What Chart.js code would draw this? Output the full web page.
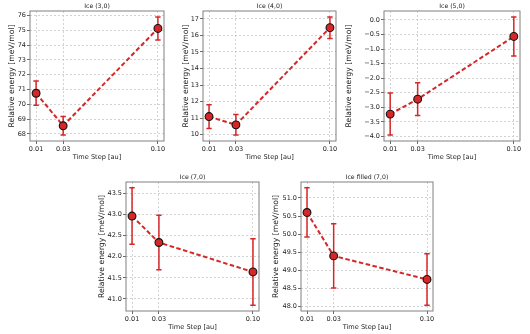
<!DOCTYPE html>
<html>
<head>
<meta charset="utf-8">
<script src="https://cdn.jsdelivr.net/npm/chart.js@4"></script>
<style>
  body { margin: 0; background: #fff; }
  #wrap { position: relative; width: 530px; height: 334px; overflow: hidden; }
  canvas { position: absolute; }
</style>
</head>
<body>
<div id="wrap"></div>
<script>
// time steps shared by all panels
const timeSteps = [0.01, 0.03, 0.10];
const xTickLabels = ['0.01', '0.03', '0.10'];

const titles = ['Ice (3,0)', 'Ice (4,0)', 'Ice (5,0)', 'Ice (7,0)', 'Ice filled (7,0)'];

// relative energies [meV/mol] and their error bars
const energies30 = [70.75, 68.55, 75.13];
const errors30 = [0.82, 0.63, 0.78];
const energies40 = [11.10, 10.60, 16.47];
const errors40 = [0.72, 0.62, 0.65];
const energies50 = [-3.23, -2.72, -0.57];
const errors50 = [0.72, 0.56, 0.67];
const energies70 = [42.97, 42.34, 41.64];
const errors70 = [0.67, 0.65, 0.79];
const energiesFilled = [50.60, 49.40, 48.75];
const errorsFilled = [0.68, 0.89, 0.71];

// y tick labels per panel
const yTicks30 = [68, 69, 70, 71, 72, 73, 74, 75, 76];
const yTicks40 = [10, 11, 12, 13, 14, 15, 16, 17];
const yTicks50 = [-4.0, -3.5, -3.0, -2.5, -2.0, -1.5, -1.0, -0.5, 0.0];
const yTicks70 = [41.0, 41.5, 42.0, 42.5, 43.0, 43.5];
const yTicksFilled = [48.0, 48.5, 49.0, 49.5, 50.0, 50.5, 51.0];

const RED = '#d62728';
const FONT = 'DejaVu Sans';
const X_AXIS_H = 26, PAD_TOP = 11, PAD_RIGHT = 8;

const errorBars = {
    id: 'errorBars',
    beforeDatasetsDraw(chart, args, opts) {
        const {ctx, scales: {x, y}} = chart;
        ctx.save();
        ctx.strokeStyle = RED;
        ctx.lineWidth = 1.5;
        opts.values.forEach((v, i) => {
            const px = x.getPixelForValue(timeSteps[i]);
            const top = y.getPixelForValue(v + opts.errors[i]);
            const bot = y.getPixelForValue(v - opts.errors[i]);
            ctx.beginPath();
            ctx.moveTo(px, top); ctx.lineTo(px, bot);
            ctx.moveTo(px - 2.7, top); ctx.lineTo(px + 2.7, top);
            ctx.moveTo(px - 2.7, bot); ctx.lineTo(px + 2.7, bot);
            ctx.stroke();
        });
        ctx.restore();
    }
};

const frameAndTitle = {
    id: 'frameAndTitle',
    afterDraw(chart, args, opts) {
        const {ctx, chartArea: a} = chart;
        ctx.save();
        ctx.strokeStyle = '#808080';
        ctx.lineWidth = 1;
        ctx.strokeRect(a.left, a.top, a.right - a.left, a.bottom - a.top);
        ctx.fillStyle = '#222';
        ctx.font = '6.2px "' + FONT + '"';
        ctx.textAlign = 'center';
        ctx.textBaseline = 'middle';
        ctx.fillText(opts.text, (a.left + a.right) / 2, a.top - 5);
        ctx.restore();
    }
};

function fmt(v, dec) {
    return v.toFixed(dec).replace('-', '\u2212');
}

// area = chart area box, yw = width of the y axis (ticks + title)
function makePanel(area, yw, title, values, errors, yTicks, dec) {
    const [x0, y0, x1, y1] = area;
    const canvas = document.createElement('canvas');
    const w = (x1 - x0) + yw + PAD_RIGHT;
    const h = (y1 - y0) + PAD_TOP + X_AXIS_H;
    canvas.width = w; canvas.height = h;
    canvas.style.left = (x0 - yw) + 'px';
    canvas.style.top = (y0 - PAD_TOP) + 'px';
    canvas.style.width = w + 'px';
    canvas.style.height = h + 'px';
    document.getElementById('wrap').appendChild(canvas);

    // matplotlib-like autoscale: data incl. error bars plus 5% margins
    const lo = Math.min(...values.map((v, i) => v - errors[i]));
    const hi = Math.max(...values.map((v, i) => v + errors[i]));
    const ym = (hi - lo) * 0.05;
    const xm = (timeSteps[2] - timeSteps[0]) * 0.05;

    const grid = {
        color: '#c8c8c8', lineWidth: 0.8, drawTicks: true, tickLength: 3,
        tickColor: '#444', tickWidth: 0.8, tickBorderDash: []
    };
    const tickFont = {family: FONT, size: 6.5};

    new Chart(canvas.getContext('2d'), {
        type: 'line',
        data: {
            datasets: [{
                data: values.map((v, i) => ({x: timeSteps[i], y: v})),
                borderColor: RED,
                borderWidth: 2,
                borderDash: [4.5, 2.5],
                pointRadius: 3.9,
                pointBorderWidth: 1.1,
                pointBackgroundColor: RED,
                pointBorderColor: '#111',
                fill: false,
                tension: 0
            }]
        },
        options: {
            responsive: false,
            animation: false,
            devicePixelRatio: 1,
            layout: {padding: {top: PAD_TOP, right: PAD_RIGHT, left: 0, bottom: 0}},
            plugins: {
                legend: {display: false},
                tooltip: {enabled: false},
                errorBars: {values: values, errors: errors},
                frameAndTitle: {text: title}
            },
            scales: {
                x: {
                    type: 'linear',
                    min: timeSteps[0] - xm,
                    max: timeSteps[2] + xm,
                    grid: grid,
                    border: {display: false, dash: [2, 2]},
                    afterBuildTicks: s => { s.ticks = timeSteps.map(v => ({value: v})); },
                    afterFit: s => { s.height = X_AXIS_H; },
                    ticks: {
                        font: tickFont, color: '#222', padding: 1, maxRotation: 0, autoSkip: false,
                        callback: (v, i) => xTickLabels[i]
                    },
                    title: {
                        display: true, text: 'Time Step [au]', color: '#222',
                        font: {family: FONT, size: 6.6}, padding: {top: 0, bottom: 6}
                    }
                },
                y: {
                    type: 'linear',
                    min: lo - ym,
                    max: hi + ym,
                    grid: grid,
                    border: {display: false, dash: [2, 2]},
                    afterBuildTicks: s => { s.ticks = yTicks.map(v => ({value: v})); },
                    afterFit: s => { s.width = yw; },
                    ticks: {
                        font: tickFont, color: '#222', padding: 1, autoSkip: false,
                        callback: v => fmt(v, dec)
                    },
                    title: {
                        display: true, text: 'Relative energy [meV/mol]', color: '#222',
                        font: {family: FONT, size: 7.7}, padding: {top: 1.4, bottom: 0}
                    }
                }
            }
        },
        plugins: [errorBars, frameAndTitle]
    });
}

makePanel([30, 11, 164, 141], 24, titles[0], energies30, errors30, yTicks30, 0);
makePanel([203, 11, 336, 141], 23, titles[1], energies40, errors40, yTicks40, 0);
makePanel([384, 11, 520, 141], 41, titles[2], energies50, errors50, yTicks50, 1);
makePanel([126, 182, 259, 311], 30, titles[3], energies70, errors70, yTicks70, 1);
makePanel([301, 182, 433, 311], 31, titles[4], energiesFilled, errorsFilled, yTicksFilled, 1);
</script>
</body>
</html>
